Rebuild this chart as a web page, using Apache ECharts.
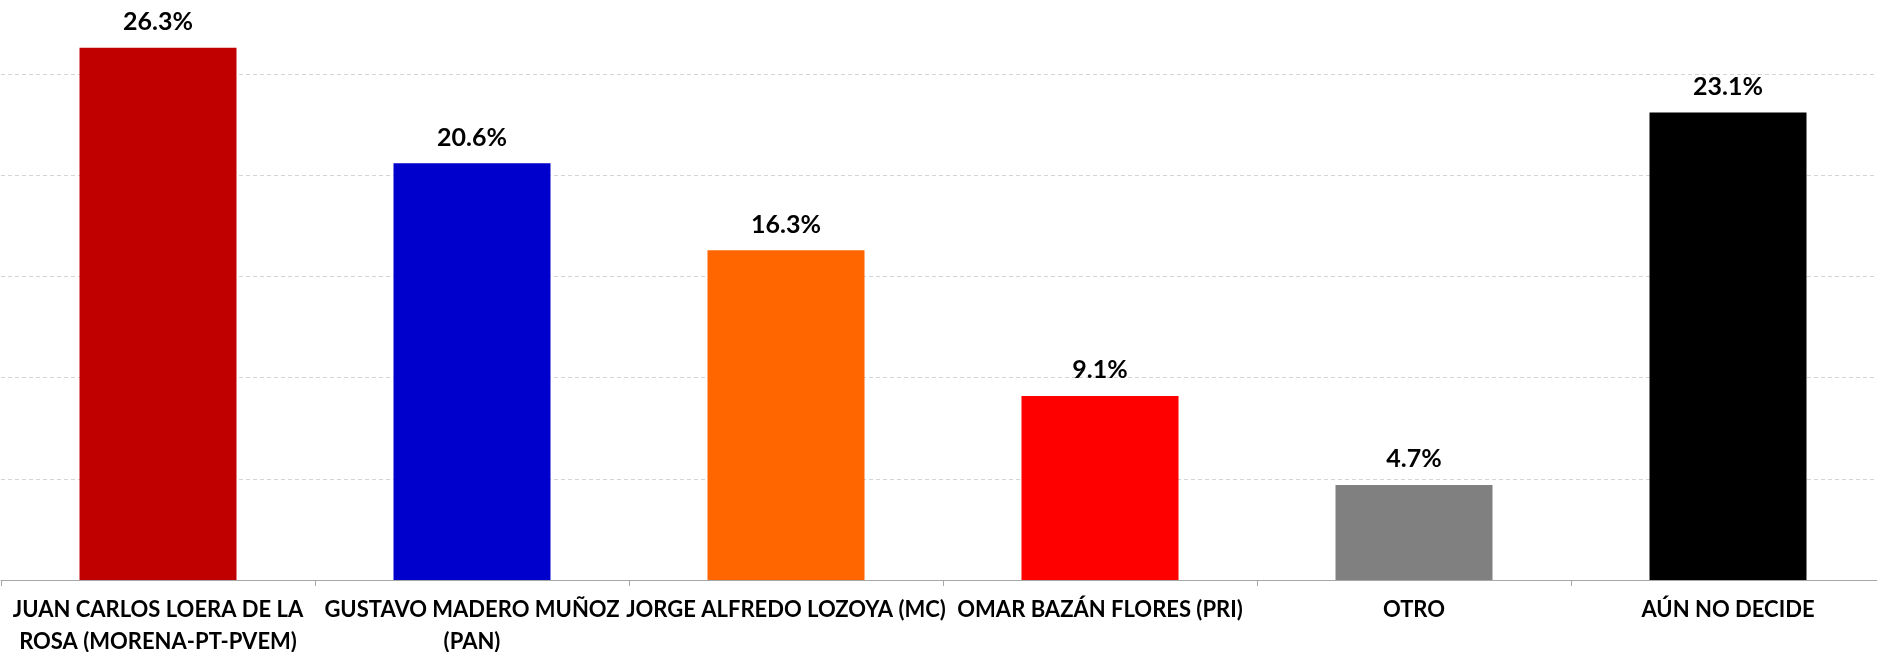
<!DOCTYPE html>
<html>
<head>
<meta charset="utf-8">
<title>Preferencia</title>
<script src="https://cdn.jsdelivr.net/npm/echarts@6/dist/echarts.min.js"></script>
<style>
  html, body { margin: 0; padding: 0; background: #fff; }
  #chart01 { width: 1877px; height: 652px; }
</style>
</head>
<body>
<div id="chart01"></div>
<script>
// 数据
var categories = [
    'JUAN CARLOS LOERA DE LA\nROSA (MORENA-PT-PVEM)',
    'GUSTAVO MADERO MUÑOZ\n(PAN)',
    'JORGE ALFREDO LOZOYA (MC)',
    'OMAR BAZÁN FLORES (PRI)',
    'OTRO',
    'AÚN NO DECIDE'
];
var values = [26.3, 20.6, 16.3, 9.1, 4.7, 23.1];
var barColors = ['#c00000', '#0000cc', '#ff6600', '#ff0000', '#808080', '#000000'];

var myChart = echarts.init(document.getElementById('chart01'));

var option = {
    animation: false,
    grid: {
        top: -27,
        left: 1,
        right: -8,
        bottom: 72,
        containLabel: false,
        outerBoundsMode: 'none'
    },
    xAxis: {
        type: 'category',
        data: categories,
        axisLine: {
            lineStyle: { color: '#a6a6a6', width: 1 }
        },
        axisTick: {
            show: true,
            length: 6,
            lineStyle: { color: '#a6a6a6' }
        },
        axisLabel: {
            interval: 0,
            margin: 14,
            color: '#000',
            fontFamily: 'Lato',
            fontWeight: 'bold',
            fontSize: 22,
            lineHeight: 32
        }
    },
    yAxis: {
        type: 'value',
        min: 0,
        max: 30,
        interval: 5,
        axisLine: { show: false },
        axisTick: { show: false },
        axisLabel: { show: false },
        splitLine: {
            lineStyle: { color: '#d4d4d4', type: [4, 3], width: 1 }
        }
    },
    series: [{
        type: 'bar',
        barWidth: '50%',
        data: values.map(function (v, i) {
            return { value: v, itemStyle: { color: barColors[i] } };
        }),
        label: {
            show: true,
            position: 'top',
            distance: 13,
            color: '#000',
            fontFamily: 'Lato',
            fontWeight: 'bold',
            fontSize: 25,
            formatter: function (p) { return p.value.toFixed(1) + '%'; }
        }
    }]
};

myChart.setOption(option);
</script>
</body>
</html>
